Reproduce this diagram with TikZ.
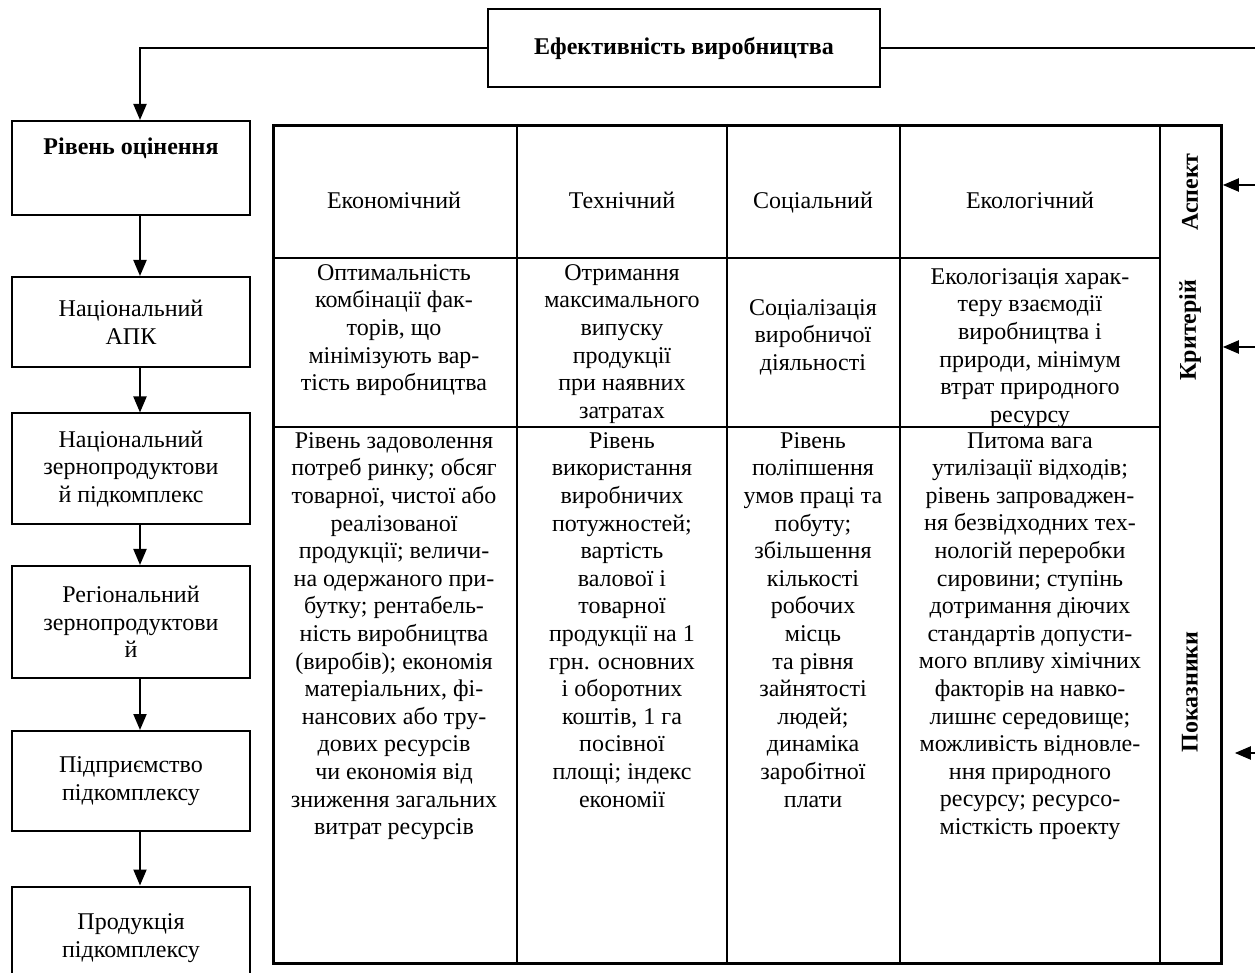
\documentclass[tikz,border=0pt]{standalone}
\usepackage{fontspec}
\setmainfont{Liberation Serif}
\usepackage{tikz}
\usetikzlibrary{positioning}
\usetikzlibrary{arrows.meta}
\usetikzlibrary{calc}
\newcommand{\bodyfont}{\fontsize{12pt}{13.8pt}\selectfont}
\tikzstyle{levelbox}=[rectangle,draw,line width=1pt,minimum width=119pt,align=center,inner sep=0pt]
\tikzstyle{edge} = [draw,line width=1pt,-{Triangle[length=8pt,width=6.5pt]}]
\tikzstyle{line} = [draw,line width=1pt]
\tikzstyle{cell} = [align=center,inner sep=0pt]
\tikzstyle{side} = [font=\bodyfont\bfseries,rotate=90,inner sep=0pt]
\tikzset{tbl/.style={draw,line width=1.4pt}}

\begin{document}
\begin{tikzpicture}[x=0.5pt,y=-0.5pt,font=\bodyfont]

 \useasboundingbox (0,0) rectangle (1255,973);
 \clip (0,0) rectangle (1255,973);

 %Title
 \node[levelbox,minimum width=196pt,minimum height=39pt,font=\bodyfont\bfseries] (title) at (684,48) {Ефективність виробництва};

 %Levels
 \node[levelbox,minimum height=47pt,text height=9pt,text depth=22pt,font=\bodyfont\bfseries] (b1) at (131,168) {Рівень оцінення};

  \foreach \y/\h/\name/\label in {322/45/b2/{Національний\\АПК},
                                   469/55.5/b3/{Національний\\зернопродуктови\\й підкомплекс},
                                   622/56/b4/{Регіональний\\зернопродуктови\\й},
                                   781/50/b5/{Підприємство\\підкомплексу},
                                   938/51.5/b6/{Продукція\\підкомплексу}}
          \node[levelbox,minimum height=\h pt] (\name) at (131,\y) {\label};

  \draw[edge] (title.west) -| ($(b1.north)+(9,0)$);
  \coordinate (tr) at (1255,48);
  \draw[line] (title.east) -- (tr);

  \foreach \source/ \dest in {b1/b2, b2/b3, b3/b4, b4/b5, b5/b6}
         \draw[edge] ($(\source.south)+(9,0)$) -- ($(\dest.north)+(9,0)$);

 %Table
 \node[tbl,minimum width=474pt,minimum height=419pt,inner sep=0pt,anchor=north west] (tab) at (272,124) {};
  \foreach \x in {517,727,900,1160}
         \draw[tbl] (\x,124) -- (\x,962);
  \foreach \y in {258,427}
         \draw[tbl] (272,\y) -- (1160,\y);

 %Aspect
  \foreach \x/\name/\label in {394/a1/Економічний, 622/a2/Технічний, 813/a3/Соціальний, 1030/a4/Екологічний}
          \node[cell,anchor=base] (\name) at (\x,209) {\label};

 %Criterion
  \foreach \x/\y/\name/\label in {394/264/k1/{Оптимальність\\комбінації фак-\\торів, що\\мінімізують вар-\\тість виробництва},
                                  622/264/k2/{Отримання\\максимального\\випуску\\продукції\\при наявних\\затратах},
                                  813/299/k3/{Соціалізація\\виробничої\\діяльності},
                                  1030/268/k4/{Екологізація харак-\\теру взаємодії\\виробництва і\\природи, мінімум\\втрат природного\\ресурсу}}
          \node[cell,anchor=north] (\name) at (\x,\y) {\label};

 %Indicators
  \foreach \x/\name/\label in {394/p1/{Рівень задоволення\\потреб ринку; обсяг\\товарної, чистої або\\реалізованої\\продукції; величи-\\на одержаного при-\\бутку; рентабель-\\ність виробництва\\(виробів); економія\\матеріальних, фі-\\нансових або тру-\\дових ресурсів\\чи економія від\\зниження загальних\\витрат ресурсів},
                               622/p2/{Рівень\\використання\\виробничих\\потужностей;\\вартість\\валової і\\товарної\\продукції на 1\\грн. основних\\і оборотних\\коштів, 1 га\\посівної\\площі; індекс\\економії},
                               813/p3/{Рівень\\поліпшення\\умов праці та\\побуту;\\збільшення\\кількості\\робочих\\місць\\та рівня\\зайнятості\\людей;\\динаміка\\заробітної\\плати},
                               1030/p4/{Питома вага\\утилізації відходів;\\рівень запроваджен-\\ня безвідходних тех-\\нологій переробки\\сировини; ступінь\\дотримання діючих\\стандартів допусти-\\мого впливу хімічних\\факторів на навко-\\лишнє середовище;\\можливість відновле-\\ння природного\\ресурсу; ресурсо-\\місткість проекту}}
          \node[cell,anchor=north] (\name) at (\x,432) {\label};

 %Side labels
 \node[side] (sasp) at (1190,192) {Аспект};
 \node[side] (skr) at (1190,330) {Критерій};
 \node[side] (spok) at (1190,692) {Показники};

  \coordinate (r1) at (1255,185);
  \coordinate (r2) at (1255,347);
  \coordinate (r3) at (1255,753);
  \draw[edge] (r1) -- (r1 -| tab.east);
  \draw[edge] (r2) -- (r2 -| tab.east);
  \draw[edge] (r3) -- ($(r3 -| tab.east)+(12,0)$);

\end{tikzpicture}
\end{document}
